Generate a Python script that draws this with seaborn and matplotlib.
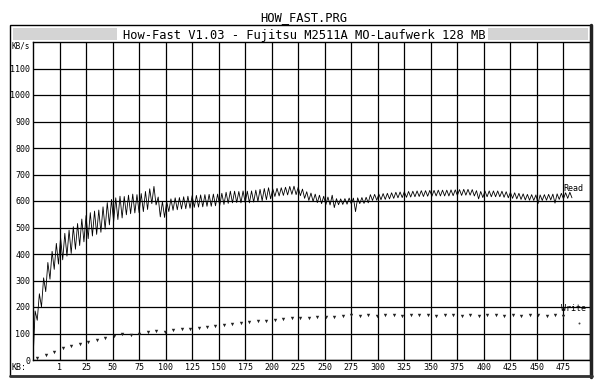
import numpy as np
import pandas as pd
import matplotlib
matplotlib.use("Agg")
import matplotlib.pyplot as plt
import seaborn as sns
from matplotlib.patches import Rectangle
from matplotlib.lines import Line2D

# ---------------- data ----------------
read_start_kb = -25
read_step_kb = 2
read_rate = [
    0,
    185, 150, 250, 200, 310, 258, 368, 305, 410, 342, 440, 362,
    462, 378, 478, 392, 490, 402, 503, 418, 515, 432, 532, 446,
    545, 458, 556, 468, 562, 474, 566, 482, 578, 494, 594, 510,
    606, 522, 612, 530, 618, 536, 617, 548, 622, 552, 626, 555,
    624, 556, 628, 560, 636, 568, 646, 590, 655, 585, 615, 540,
    598, 538, 598, 560, 608, 565, 612, 567, 613, 570, 616, 571,
    618, 573, 620, 576, 621, 577, 623, 578, 624, 580, 625, 580,
    626, 582, 626, 583, 629, 587, 633, 591, 637, 593, 637, 594,
    636, 593, 638, 594, 637, 593, 638, 596, 641, 598, 644, 601,
    647, 605, 650, 608, 646, 617, 648, 619, 650, 621, 652, 623,
    655, 625, 656, 624, 652, 620, 645, 610, 635, 602, 630, 598,
    626, 594, 622, 590, 618, 586, 615, 585, 622, 575,
    609, 586, 608, 587, 609, 588, 611, 589, 611, 560, 612, 590, 613, 591, 614, 593,
    624, 602, 625, 603, 626, 605, 628, 606, 629, 608,
    631, 610, 633, 612, 634, 613, 635, 614, 636, 615,
    637, 616, 638, 617, 639, 617, 639, 618, 640, 618,
    640, 619, 641, 619, 641, 619, 641, 619, 642, 620,
    642, 621, 643, 621, 644, 622, 644, 622, 643, 619,
    639, 608, 636, 613,
    638, 616, 638, 616, 638, 616, 638, 616, 637, 614,
    635, 612, 633, 610, 631, 608, 629, 606, 627, 604,
    625, 603, 624, 602, 623, 590, 623, 602, 624, 603,
    625, 604, 626, 592, 627, 606, 629, 608, 631, 610,
    633, 612,
]

write_start_kb = -21
write_step_kb = 8
write_rate = [
    8, 20, 32, 45, 52, 59, 67, 77, 83, 90,
    97, 95, 100, 104, 108, 106, 112, 117, 116, 121,
    124, 128, 131, 137, 140, 143, 146, 149, 151, 153,
    157, 160, 158, 162, 164, 163, 166, 168, 165, 169,
    167, 170, 168, 166, 171, 168, 169, 167, 170, 168,
    166, 169, 167, 170, 168, 166, 169, 167, 170, 168,
    166, 169, 167,
]
stray_dot_kb = [490]
stray_dot_rate = [140]

x_tick_pos = [0, 25, 50, 75, 100, 125, 150, 175, 200, 225, 250, 275,
              300, 325, 350, 375, 400, 425, 450, 475]
x_tick_labels = ["1", "25", "50", "75", "100", "125", "150", "175", "200",
                 "225", "250", "275", "300", "325", "350", "375", "400",
                 "425", "450", "475"]
y_ticks = [0, 100, 200, 300, 400, 500, 600, 700, 800, 900, 1000, 1100]
y_tick_labels = [str(v) for v in y_ticks]

read_df = pd.DataFrame({
    "kb": read_start_kb + read_step_kb * np.arange(len(read_rate)),
    "rate": read_rate,
})
write_df = pd.DataFrame({
    "kb": write_start_kb + write_step_kb * np.arange(len(write_rate)),
    "rate": write_rate,
})
stray_df = pd.DataFrame({"kb": stray_dot_kb, "rate": stray_dot_rate})

# ---------------- figure ----------------
sns.set_theme(style="white")
plt.rcParams['font.family'] = ['DejaVu Sans Mono', 'DejaVu Sans']

W, H = 600, 386
fig = plt.figure(figsize=(6.0, 3.86), dpi=100)
fig.patch.set_facecolor("white")

def fx(px):
    return px / W

def fy(py):
    return 1 - py / H

ax = fig.add_axes([fx(33), fy(360), fx(590) - fx(33), fy(42) - fy(360)])
ax.set_facecolor("white")

sns.lineplot(data=read_df, x="kb", y="rate", ax=ax, color="black",
             linewidth=0.6, estimator=None, sort=False)
sns.scatterplot(data=write_df, x="kb", y="rate", ax=ax, color="#222222",
                marker="v", s=6, linewidth=0)
sns.scatterplot(data=stray_df, x="kb", y="rate", ax=ax, color="#444444",
                marker="o", s=2, linewidth=0)

ax.set_xlim(-25, 500)
ax.set_ylim(0, 1200)
ax.set_xticks(x_tick_pos)
ax.set_xticklabels(x_tick_labels)
ax.set_yticks(y_ticks)
ax.set_yticklabels(y_tick_labels)
ax.set_xlabel("")
ax.set_ylabel("")
ax.grid(True, color="black", linewidth=0.9)
ax.set_axisbelow(True)
ax.tick_params(length=0, labelsize=6, pad=2, colors="black")
for s in ax.spines.values():
    s.set_color("black")
    s.set_linewidth(1.0)

ax.text(475, 630, "Read", fontsize=6, ha="left", va="bottom", color="black")
ax.text(473, 178, "Write", fontsize=6, ha="left", va="bottom", color="black")

# window frame
fig.add_artist(Rectangle((fx(10), fy(376)), fx(591) - fx(10), fy(25) - fy(376),
                         transform=fig.transFigure, fill=False, lw=1.0,
                         ec="black"))
fig.add_artist(Line2D([fx(591), fx(591)], [fy(25), fy(377)],
                      transform=fig.transFigure, lw=2.5, color="#222222"))
fig.add_artist(Line2D([fx(10), fx(592)], [fy(376), fy(376)],
                      transform=fig.transFigure, lw=2.0, color="#333333"))
# title bar
fig.add_artist(Rectangle((fx(13), fy(40)), fx(117) - fx(13), fy(28) - fy(40),
                         transform=fig.transFigure, color="#d4d4d4", lw=0))
fig.add_artist(Rectangle((fx(488), fy(40)), fx(588) - fx(488), fy(28) - fy(40),
                         transform=fig.transFigure, color="#d4d4d4", lw=0))
fig.text(fx(304), fy(35), "How-Fast V1.03 - Fujitsu M2511A MO-Laufwerk 128 MB",
         fontsize=8.7, ha="center", va="center", color="black")
fig.text(fx(304), fy(18), "HOW_FAST.PRG", fontsize=8.7, ha="center",
         va="center", color="black")

fig.text(fx(12), fy(46), "KB/s", fontsize=5.5, ha="left", va="center",
         color="black")
fig.text(fx(12), fy(368), "KB:", fontsize=6, ha="left", va="center",
         color="black")

fig.savefig("out.png", dpi=100, facecolor="white")
